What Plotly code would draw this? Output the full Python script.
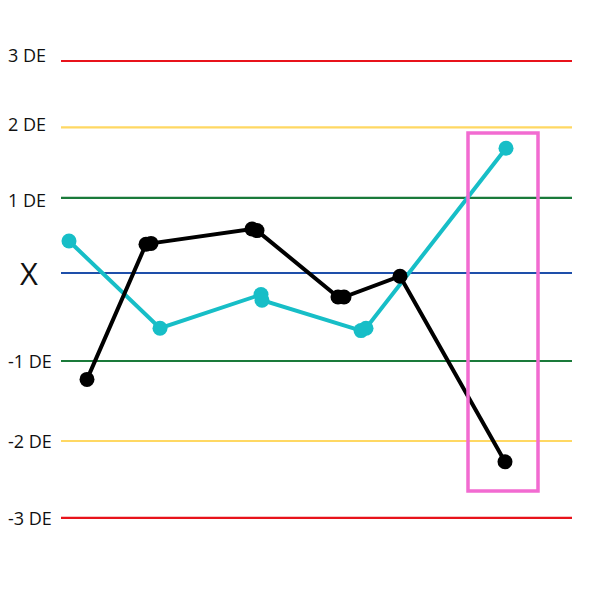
import plotly.graph_objects as go

# Control levels (in DE units)
level_labels = ["3 DE", "2 DE", "1 DE", "X", "-1 DE", "-2 DE", "-3 DE"]
level_values = [2.65, 1.82, 0.94, 0.0, -1.10, -2.10, -3.06]
level_colors = ["#E8131B", "#FFD863", "#1A7A3A", "#1E4FAA", "#1A7A3A", "#FFD863", "#E8131B"]

# Series (run position, value in DE)
black_x = [87, 146, 151, 252, 257, 338, 344, 400, 505]
black_y = [-1.33, 0.36, 0.37, 0.55, 0.53, -0.30, -0.30, -0.04, -2.36]
cyan_x = [69, 160, 261, 262, 361, 366, 506]
cyan_y = [0.40, -0.69, -0.27, -0.34, -0.72, -0.69, 1.56]

# label vertical nudges (layout only, in DE units)
LABEL_NUDGE = [0.07, 0.04, -0.025, 0.0, -0.006, -0.006, -0.006]

fig = go.Figure()

for lab, val, col, nd in zip(level_labels, level_values, level_colors, LABEL_NUDGE):
    fig.add_shape(type="line", x0=61, x1=572, y0=val, y1=val,
                  line=dict(color=col, width=2.2), layer="below")
    if lab == "X":
        fig.add_annotation(x=0.016, xref="paper", y=val + nd, text=lab, showarrow=False,
                           xanchor="left", yanchor="middle",
                           font=dict(family="Open Sans", size=31, color="#111"))
    else:
        fig.add_annotation(x=-0.003, xref="paper", y=val + nd, text=lab, showarrow=False,
                           xanchor="left", yanchor="middle",
                           font=dict(family="Open Sans", size=18, color="#111"))

fig.add_trace(go.Scatter(x=cyan_x, y=cyan_y, mode="lines+markers",
                         line=dict(color="#17BEC7", width=4),
                         marker=dict(color="#17BEC7", size=15)))
fig.add_trace(go.Scatter(x=black_x, y=black_y, mode="lines+markers",
                         line=dict(color="#000000", width=4),
                         marker=dict(color="#000000", size=15)))

# highlight box
fig.add_shape(type="rect", x0=468, x1=538, y0=1.75, y1=-2.725,
              line=dict(color="#F26BD1", width=3.5))

fig.update_layout(
    width=600, height=600,
    margin=dict(l=0, r=0, t=0, b=0),
    paper_bgcolor="white", plot_bgcolor="white",
    showlegend=False, hovermode=False,
    xaxis=dict(range=[8, 608], visible=False, fixedrange=True),
    yaxis=dict(range=[-4.1875, 3.3125], visible=False, fixedrange=True),
)

fig.write_html("out.html")
